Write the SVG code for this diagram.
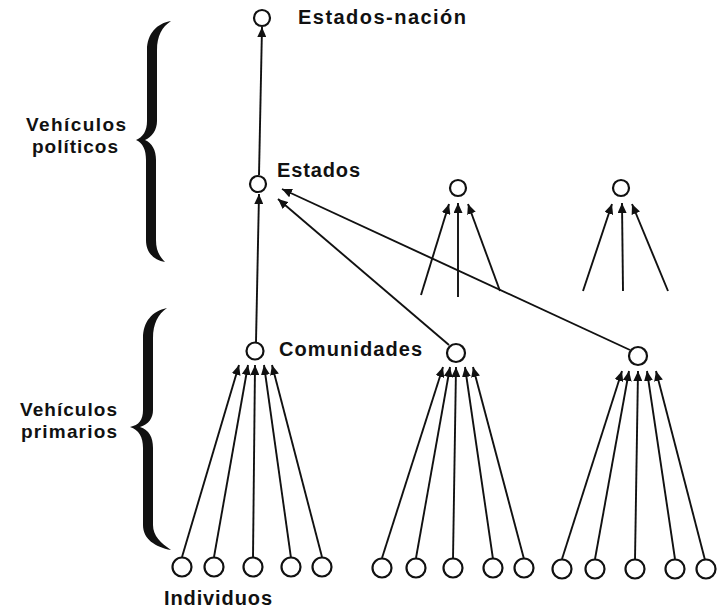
<svg xmlns="http://www.w3.org/2000/svg" width="722" height="612" viewBox="0 0 722 612">
  <style>
    .node { fill: #fff; stroke: #111; stroke-width: 2.2; }
    .lbl { font-family: "Liberation Sans", Arial, sans-serif; font-weight: bold; font-size: 20px; fill: #111; }
    .side { font-size: 19px; }
    .edge { stroke: #111; stroke-width: 1.9; fill: none; marker-end: url(#arr); }
    .brace { fill: #111; }
  </style>
  <defs>
    <marker id="arr" markerUnits="userSpaceOnUse" markerWidth="11" markerHeight="9" refX="10" refY="4.5" orient="auto">
      <path d="M0,0 L10,4.5 L0,9 Z" fill="#111"/>
    </marker>
  </defs>
  <rect width="722" height="612" fill="#fff"/>

  <!-- Braces -->
  <g id="brace-politicos">
    <path class="brace" d="M171,21 C157,23 147,34 147,50 L147,121 C147,131 143,137 136,140 C143,143 146,150 146,160 L146,240 C146,253 154,260 165,262 C159,256 156,250 156,240 L156,160 C156,150 152,143 145,140 C152,137 157,130 157,121 L157,50 C157,36 162,27 171,21 Z"/>
    <text class="lbl side" x="26" y="131" textLength="100" lengthAdjust="spacing">Vehículos</text>
    <text class="lbl side" x="32" y="153" textLength="86" lengthAdjust="spacing">políticos</text>
  </g>
  <g id="brace-primarios">
    <path class="brace" d="M167,308 C152,311 143,322 143,338 L143,410 C143,420 139,425 130,427 C139,430 143,437 143,448 L143,525 C143,539 155,547 171,550 C161,543 153,536 153,525 L153,448 C153,437 149,430 140,427 C149,424 153,418 153,410 L153,338 C153,324 158,314 167,308 Z"/>
    <text class="lbl side" x="20" y="416" textLength="97" lengthAdjust="spacing">Vehículos</text>
    <text class="lbl side" x="21" y="438" textLength="96" lengthAdjust="spacing">primarios</text>
  </g>

  <!-- Connectors -->
  <g id="connectors">
    <!-- political level -->
    <line class="edge" x1="259" y1="175" x2="262" y2="27"/>
    <line class="edge" x1="256" y1="342" x2="259" y2="194"/>
    <line class="edge" x1="449" y1="345" x2="278" y2="199"/>
    <line class="edge" x1="630" y1="350" x2="282" y2="189"/>
    <line class="edge" x1="421" y1="295" x2="449" y2="204"/>
    <line class="edge" x1="458" y1="297" x2="458" y2="203"/>
    <line class="edge" x1="500" y1="291" x2="468" y2="204"/>
    <line class="edge" x1="583" y1="291" x2="612" y2="204"/>
    <line class="edge" x1="623" y1="291" x2="622" y2="203"/>
    <line class="edge" x1="668" y1="291" x2="632" y2="204"/>
    <!-- primary level, group 1 -->
    <line class="edge" x1="182" y1="557" x2="239" y2="365"/>
    <line class="edge" x1="214" y1="557" x2="248" y2="365"/>
    <line class="edge" x1="253" y1="558" x2="255" y2="365"/>
    <line class="edge" x1="291" y1="558" x2="264" y2="365"/>
    <line class="edge" x1="322" y1="557" x2="272" y2="365"/>
    <!-- primary level, group 2 -->
    <line class="edge" x1="382" y1="558" x2="443" y2="367"/>
    <line class="edge" x1="416" y1="558" x2="450" y2="367"/>
    <line class="edge" x1="453" y1="559" x2="456" y2="367"/>
    <line class="edge" x1="493" y1="559" x2="465" y2="367"/>
    <line class="edge" x1="524" y1="559" x2="473" y2="367"/>
    <!-- primary level, group 3 -->
    <line class="edge" x1="562" y1="559" x2="622" y2="371"/>
    <line class="edge" x1="595" y1="559" x2="629" y2="371"/>
    <line class="edge" x1="635" y1="560" x2="638" y2="371"/>
    <line class="edge" x1="675" y1="559" x2="647" y2="371"/>
    <line class="edge" x1="705" y1="560" x2="656" y2="371"/>
  </g>

  <!-- Nodes -->
  <g id="estados-nacion">
    <circle class="node" cx="262" cy="18" r="8"/>
    <text class="lbl" x="298" y="24" textLength="168" lengthAdjust="spacing">Estados-nación</text>
  </g>
  <g id="estados">
    <circle class="node" cx="258" cy="184" r="8"/>
    <text class="lbl" x="277" y="177" textLength="83" lengthAdjust="spacing">Estados</text>
  </g>
  <g id="estado-2"><circle class="node" cx="458" cy="188" r="8"/></g>
  <g id="estado-3"><circle class="node" cx="621" cy="188" r="8"/></g>
  <g id="comunidades">
    <circle class="node" cx="255" cy="351" r="8.5"/>
    <text class="lbl" x="279" y="356" textLength="143" lengthAdjust="spacing">Comunidades</text>
  </g>
  <g id="comunidad-2"><circle class="node" cx="456" cy="353" r="9"/></g>
  <g id="comunidad-3"><circle class="node" cx="638" cy="356" r="9"/></g>

  <g id="individuos">
    <circle class="node" cx="182" cy="567" r="9.5"/>
    <circle class="node" cx="214" cy="567" r="9.5"/>
    <circle class="node" cx="253" cy="567" r="9.5"/>
    <circle class="node" cx="291" cy="567" r="9.5"/>
    <circle class="node" cx="322" cy="567" r="9.5"/>
    <circle class="node" cx="382" cy="568" r="9.5"/>
    <circle class="node" cx="416" cy="568" r="9.5"/>
    <circle class="node" cx="453" cy="568" r="9.5"/>
    <circle class="node" cx="493" cy="568" r="9.5"/>
    <circle class="node" cx="524" cy="568" r="9.5"/>
    <circle class="node" cx="562" cy="569" r="9.5"/>
    <circle class="node" cx="595" cy="569" r="9.5"/>
    <circle class="node" cx="635" cy="569" r="9.5"/>
    <circle class="node" cx="675" cy="569" r="9.5"/>
    <circle class="node" cx="706" cy="569" r="9.5"/>
    <text class="lbl" x="164" y="605" textLength="108" lengthAdjust="spacing">Individuos</text>
  </g>
</svg>
